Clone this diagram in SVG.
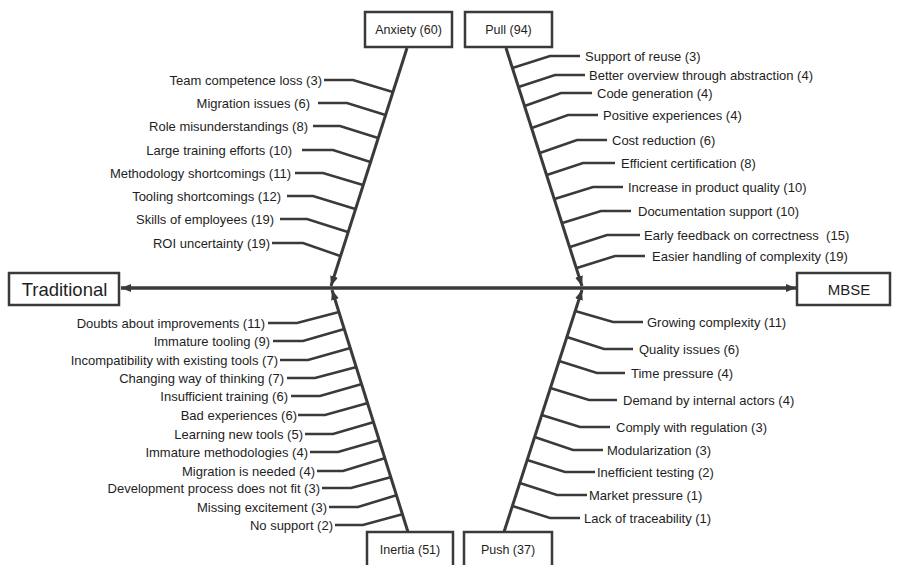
<svg xmlns="http://www.w3.org/2000/svg" width="899" height="565" viewBox="0 0 899 565">
<style>
  .box{fill:#fff;stroke:#3a3a3a;stroke-width:2.5}
  .lbl{font-family:"Liberation Sans",Arial,sans-serif;font-size:13px;fill:#1e1e1e}
  .cat{font-family:"Liberation Sans",Arial,sans-serif;font-size:12.5px;fill:#1e1e1e;text-anchor:middle}
  .end{text-anchor:end}
  .spine{fill:none;stroke:#3a3a3a;stroke-width:3}
  .br{fill:none;stroke:#3a3a3a;stroke-width:2.5;stroke-linejoin:miter}
  .main{fill:none;stroke:#3a3a3a;stroke-width:3.5}
</style>
<defs>
  <marker id="ah" viewBox="0 0 10 8" refX="10" refY="4" markerWidth="10" markerHeight="8" markerUnits="userSpaceOnUse" orient="auto">
    <path d="M0,0 L10,4 L0,8 Z" fill="#3a3a3a"/>
  </marker>
</defs>
<rect width="899" height="565" fill="#fff"/>

<g id="connectors">
  <line class="main" x1="300" y1="288" x2="121" y2="288" marker-end="url(#ah)"/>
  <line class="main" x1="300" y1="288" x2="796" y2="288" marker-end="url(#ah)"/>
  <line class="spine" x1="407" y1="48" x2="331" y2="286" marker-end="url(#ah)"/>
  <line class="spine" x1="506" y1="48" x2="582" y2="286" marker-end="url(#ah)"/>
  <line class="spine" x1="408" y1="532" x2="332" y2="290" marker-end="url(#ah)"/>
  <line class="spine" x1="504" y1="532" x2="582" y2="290" marker-end="url(#ah)"/>
  <!-- Anxiety -->
  <path class="br" d="M324,80 H353 L392.8,92"/>
  <path class="br" d="M318,103 H347 L385.5,115"/>
  <path class="br" d="M313,126 H340 L378.1,138"/>
  <path class="br" d="M302,150 H333 L370.4,162"/>
  <path class="br" d="M295,173 H323 L363,185"/>
  <path class="br" d="M287,196 H313 L355.3,209"/>
  <path class="br" d="M280,219 H307 L347.9,232"/>
  <path class="br" d="M272,243 H303 L340.2,256"/>
  <!-- Pull -->
  <path class="br" d="M580,56 H550 L512.4,68"/>
  <path class="br" d="M585,75 H555 L518.5,87"/>
  <path class="br" d="M592,93 H561 L524.6,106"/>
  <path class="br" d="M598,115 H568 L531.7,128"/>
  <path class="br" d="M607,140 H577 L539.8,153"/>
  <path class="br" d="M615,163 H583 L546.8,175"/>
  <path class="br" d="M623,187 H593 L554.5,199"/>
  <path class="br" d="M631,211 H601 L562.3,223"/>
  <path class="br" d="M640,235 H607 L570,247"/>
  <path class="br" d="M645,256 H615 L576.8,268"/>
  <!-- Inertia -->
  <path class="br" d="M268,323 H297 L339,312"/>
  <path class="br" d="M273,341 H303 L344.4,329"/>
  <path class="br" d="M280,360 H308 L350.4,348"/>
  <path class="br" d="M287,378 H315 L356.5,367"/>
  <path class="br" d="M291,396 H320 L361.9,384"/>
  <path class="br" d="M298,415 H325 L367.9,403"/>
  <path class="br" d="M305,434 H333 L374,422"/>
  <path class="br" d="M310,452 H338 L379.7,440"/>
  <path class="br" d="M317,471 H343 L385.4,458"/>
  <path class="br" d="M322,488 H351 L391.4,477"/>
  <path class="br" d="M329,507 H358 L397.2,495"/>
  <path class="br" d="M335,525 H363 L403.2,514"/>
  <!-- Push -->
  <path class="br" d="M643,322 H613 L575.2,311"/>
  <path class="br" d="M633,349 H604 L566.9,337"/>
  <path class="br" d="M625,373 H597 L559.1,361"/>
  <path class="br" d="M617,400 H589 L550.4,388"/>
  <path class="br" d="M610,427 H580 L541.7,415"/>
  <path class="br" d="M603,450 H573 L534.6,437"/>
  <path class="br" d="M595,472 H565 L527.2,460"/>
  <path class="br" d="M587,495 H557 L519.8,483"/>
  <path class="br" d="M580,518 H550 L512.4,506"/>
</g>

<g id="traditional">
  <rect class="box" x="9" y="273" width="110" height="32"/>
  <text x="64.5" y="296" font-family="'Liberation Sans',Arial,sans-serif" font-size="18.5" fill="#1e1e1e" text-anchor="middle">Traditional</text>
</g>
<g id="mbse">
  <rect class="box" x="797" y="273" width="93" height="32"/>
  <text x="849" y="294.5" font-family="'Liberation Sans',Arial,sans-serif" font-size="15" fill="#1e1e1e" text-anchor="middle">MBSE</text>
</g>
<g id="anxiety">
  <rect class="box" x="365" y="12" width="87" height="35"/>
  <text class="cat" x="408.5" y="34">Anxiety (60)</text>
</g>
<g id="pull">
  <rect class="box" x="465" y="12" width="87" height="35"/>
  <text class="cat" x="508.5" y="34">Pull (94)</text>
</g>
<g id="inertia">
  <rect class="box" x="367" y="532" width="86" height="36"/>
  <text class="cat" x="410" y="554">Inertia (51)</text>
</g>
<g id="push">
  <rect class="box" x="464" y="532" width="88" height="36"/>
  <text class="cat" x="508" y="554">Push (37)</text>
</g>

<g id="anxiety-factors">
  <text class="lbl end" x="322" y="84.5">Team competence loss (3)</text>
  <text class="lbl end" x="310" y="107.5">Migration issues (6)</text>
  <text class="lbl end" x="308" y="130.5">Role misunderstandings (8)</text>
  <text class="lbl end" x="292" y="154.5">Large training efforts (10)</text>
  <text class="lbl end" x="291" y="177.5">Methodology shortcomings (11)</text>
  <text class="lbl end" x="281" y="200.5">Tooling shortcomings (12)</text>
  <text class="lbl end" x="274" y="223.5">Skills of employees (19)</text>
  <text class="lbl end" x="270" y="247.5">ROI uncertainty (19)</text>
</g>
<g id="pull-factors">
  <text class="lbl" x="585" y="60.5">Support of reuse (3)</text>
  <text class="lbl" x="589" y="79.5">Better overview through abstraction (4)</text>
  <text class="lbl" x="597" y="97.5">Code generation (4)</text>
  <text class="lbl" x="603" y="119.5">Positive experiences (4)</text>
  <text class="lbl" x="612" y="144.5">Cost reduction (6)</text>
  <text class="lbl" x="621" y="167.5">Efficient certification (8)</text>
  <text class="lbl" x="628" y="191.5">Increase in product quality (10)</text>
  <text class="lbl" x="638" y="215.5">Documentation support (10)</text>
  <text class="lbl" x="644" y="239.5" xml:space="preserve">Early feedback on correctness  (15)</text>
  <text class="lbl" x="652" y="260.5">Easier handling of complexity (19)</text>
</g>
<g id="inertia-factors">
  <text class="lbl end" x="265" y="327.5">Doubts about improvements (11)</text>
  <text class="lbl end" x="270" y="345.5">Immature tooling (9)</text>
  <text class="lbl end" x="278" y="364.5">Incompatibility with existing tools (7)</text>
  <text class="lbl end" x="284" y="382.5">Changing way of thinking (7)</text>
  <text class="lbl end" x="288" y="400.5">Insufficient training (6)</text>
  <text class="lbl end" x="297" y="419.5">Bad experiences (6)</text>
  <text class="lbl end" x="303" y="438.5">Learning new tools (5)</text>
  <text class="lbl end" x="308" y="456.5">Immature methodologies (4)</text>
  <text class="lbl end" x="315" y="475.5">Migration is needed (4)</text>
  <text class="lbl end" x="320" y="492.5">Development process does not fit (3)</text>
  <text class="lbl end" x="327" y="511.5">Missing excitement (3)</text>
  <text class="lbl end" x="333" y="529.5">No support (2)</text>
</g>
<g id="push-factors">
  <text class="lbl" x="647" y="326.5">Growing complexity (11)</text>
  <text class="lbl" x="639" y="353.5">Quality issues (6)</text>
  <text class="lbl" x="631" y="377.5">Time pressure (4)</text>
  <text class="lbl" x="623" y="404.5">Demand by internal actors (4)</text>
  <text class="lbl" x="616" y="431.5">Comply with regulation (3)</text>
  <text class="lbl" x="607" y="454.5">Modularization (3)</text>
  <text class="lbl" x="597" y="476.5">Inefficient testing (2)</text>
  <text class="lbl" x="589" y="499.5">Market pressure (1)</text>
  <text class="lbl" x="584" y="522.5">Lack of traceability (1)</text>
</g>
</svg>
